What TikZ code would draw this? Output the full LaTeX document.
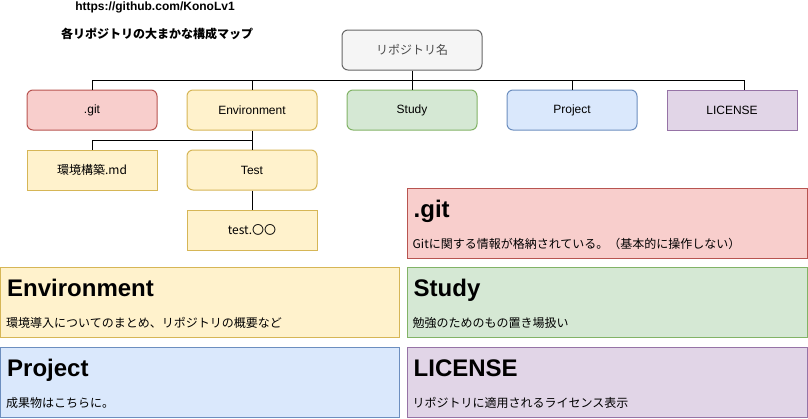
\documentclass[tikz,border=0pt]{standalone}
\usepackage{fontspec}
\setmainfont{Liberation Sans}
\newfontfamily\jp{Noto Sans CJK JP}
\definecolor{redfill}{HTML}{F8CECC}\definecolor{redline}{HTML}{B85450}
\definecolor{yelfill}{HTML}{FFF2CC}\definecolor{yelline}{HTML}{D6B656}
\definecolor{grnfill}{HTML}{D5E8D4}\definecolor{grnline}{HTML}{82B366}
\definecolor{blufill}{HTML}{DAE8FC}\definecolor{bluline}{HTML}{6C8EBF}
\definecolor{purfill}{HTML}{E1D5E7}\definecolor{purline}{HTML}{9673A6}
\definecolor{gryfill}{HTML}{F5F5F5}\definecolor{gryline}{HTML}{666666}
\tikzset{
  box/.style={draw,line width=1pt,minimum width=130pt,minimum height=40pt,inner sep=0pt,font=\fontsize{12}{14}\selectfont},
  rbox/.style={box,rounded corners=6pt},
  redbox/.style={fill=redfill,draw=redline},
  yelbox/.style={fill=yelfill,draw=yelline},
  grnbox/.style={fill=grnfill,draw=grnline},
  blubox/.style={fill=blufill,draw=bluline},
  purbox/.style={fill=purfill,draw=purline},
  card/.style={draw,line width=1pt,minimum width=400pt,minimum height=70pt,inner sep=0pt},
  cardhead/.style={anchor=base west,inner sep=0pt,font=\fontsize{24}{28}\bfseries\selectfont},
  cardtext/.style={anchor=base west,inner sep=0pt,font=\jp\fontsize{12}{14}\selectfont},
  link/.style={line width=1pt,black}
}
\begin{document}
\begin{tikzpicture}[x=1pt,y=-1pt]
        \useasboundingbox (0,0) rectangle (808,418);
        % headings
        \node[font=\fontsize{12}{14}\bfseries\selectfont](url)at(155,7){https://github.com/KonoLv1};
        \node[font=\jp\fontsize{12}{14}\bfseries\selectfont](title)at(157,34){各リポジトリの大まかな構成マップ};
        % tree
        \node[rbox,fill=gryfill,draw=gryline,text=black!70,minimum width=140pt](root)at(412,50){\jp リポジトリ名};
        \node[rbox,redbox](git)at(92,110){.git};
        \node[rbox,yelbox](env)at(252,110){Environment};
        \node[rbox,grnbox](study)at(412,110){Study};
        \node[rbox,blubox](proj)at(572,110){Project};
        \node[box,purbox](lic)at(732,110){LICENSE};
        \node[box,yelbox](md)at(92,170){\jp 環境構築.md};
        \node[rbox,yelbox](test)at(252,170){Test};
        \node[box,yelbox](testfile)at(252,230){\jp test.〇〇};
        \coordinate(bus)at(412,80);
        \coordinate(envbus)at(252,140);
        \draw[link](root)--(bus);
        \foreach \n in {git,env,study,proj} \draw[link](bus)-|(\n.north);
        \draw[link](bus)-|([xshift=12pt]lic.north);
        \draw[link](env)--(test);
        \draw[link](envbus)-|(md.north);
        \draw[link](test)--(testfile);
        % cards
        \node[card,redbox](gitcard)at(607,223){};
        \node[card,yelbox,minimum width=399pt](envcard)at(200,302){};
        \node[card,grnbox](studycard)at(607,302){};
        \node[card,blubox,minimum width=399pt](projcard)at(200,382){};
        \node[card,purbox](liccard)at(607,382){};
        \node[cardhead](githead)at([xshift=7pt,yshift=-30pt]gitcard.north west){.git};
        \node[cardtext](gittext)at([xshift=6pt,yshift=-61pt]gitcard.north west){Gitに関する情報が格納されている。（基本的に操作しない）};
        \node[cardhead](envhead)at([xshift=7pt,yshift=-30pt]envcard.north west){Environment};
        \node[cardtext](envtext)at([xshift=6pt,yshift=-61pt]envcard.north west){環境導入についてのまとめ、リポジトリの概要など};
        \node[cardhead](studyhead)at([xshift=7pt,yshift=-30pt]studycard.north west){Study};
        \node[cardtext](studytext)at([xshift=6pt,yshift=-61pt]studycard.north west){勉強のためのもの置き場扱い};
        \node[cardhead](projhead)at([xshift=7pt,yshift=-30pt]projcard.north west){Project};
        \node[cardtext](projtext)at([xshift=6pt,yshift=-61pt]projcard.north west){成果物はこちらに。};
        \node[cardhead](lichead)at([xshift=7pt,yshift=-30pt]liccard.north west){LICENSE};
        \node[cardtext](lictext)at([xshift=6pt,yshift=-61pt]liccard.north west){リポジトリに適用されるライセンス表示};
\end{tikzpicture}
\end{document}
